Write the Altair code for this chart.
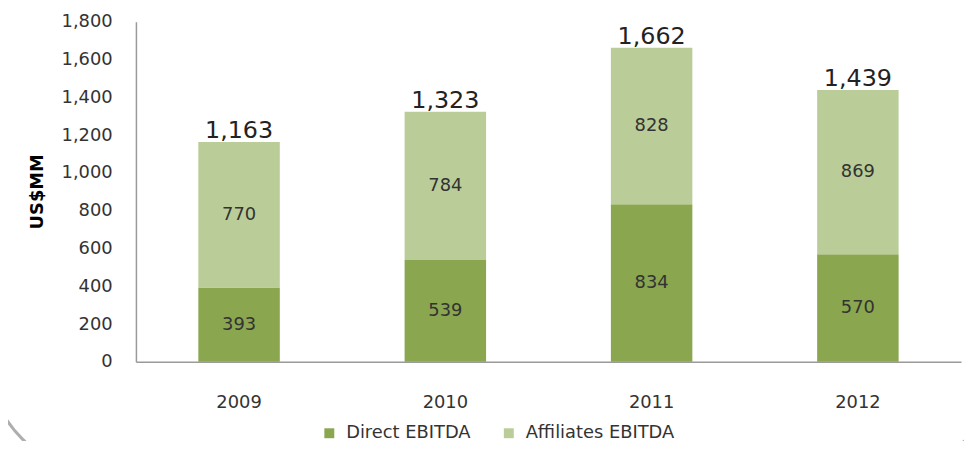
import altair as alt
import pandas as pd

years = ["2009", "2010", "2011", "2012"]
direct = [393, 539, 834, 570]
affiliates = [770, 784, 828, 869]
totals = [1163, 1323, 1662, 1439]
series = ["Direct EBITDA", "Affiliates EBITDA"]
colors = ["#8AA64F", "#BACD98"]
y_ticks = [0, 200, 400, 600, 800, 1000, 1200, 1400, 1600, 1800]

rows = []
for i, yr in enumerate(years):
    rows.append({"year": yr, "series": series[0], "value": direct[i], "ord": 0,
                 "mid": direct[i] / 2})
    rows.append({"year": yr, "series": series[1], "value": affiliates[i], "ord": 1,
                 "mid": direct[i] + affiliates[i] / 2})
df = pd.DataFrame(rows)
tot = pd.DataFrame({"year": years, "total": totals})

FONT = "DejaVu Sans"

xscale = alt.Scale(paddingInner=0.605, paddingOuter=0.3025)
xaxis = alt.Axis(title=None, labelAngle=0, tickSize=0, ticks=False,
                 labelPadding=32, labelFontSize=18, labelColor="#333333",
                 domainColor="#9A9A9A", domainWidth=1.5, grid=False)
yscale = alt.Scale(domain=[0, 1800], nice=False)
yaxis = alt.Axis(title="US$MM", values=y_ticks, tickCount=30, format=",.0f",
                 labelOverlap=False,
                 ticks=False, tickSize=0, labelPadding=24, labelFontSize=18,
                 labelColor="#333333", domainColor="#9A9A9A", domainWidth=1.5,
                 grid=False, titleFontSize=18, titleFontWeight="bold",
                 titleColor="#000000", titleAngle=270, titleX=-99, titleY=171,
                 titleAlign="center", titleBaseline="middle")

bars = alt.Chart(df).mark_bar().encode(
    x=alt.X("year:N", sort=years, scale=xscale, axis=xaxis),
    y=alt.Y("value:Q", stack="zero", scale=yscale, axis=yaxis),
    color=alt.Color("series:N", scale=alt.Scale(domain=series, range=colors),
                    legend=alt.Legend(title=None, orient="none", direction="horizontal",
                                      legendX=186, legendY=406, symbolType="square",
                                      symbolSize=100, symbolStrokeWidth=0,
                                      labelFontSize=18, labelColor="#333333",
                                      labelOffset=8, columnPadding=29)),
    order=alt.Order("ord:Q"),
)

seg = alt.Chart(df).mark_text(fontSize=18, color="#333333", baseline="middle").encode(
    x=alt.X("year:N", sort=years, scale=xscale, axis=xaxis),
    y=alt.Y("mid:Q", scale=yscale, axis=yaxis),
    text=alt.Text("value:Q"),
)

top = alt.Chart(tot).mark_text(fontSize=24, color="#222222", baseline="alphabetic", dy=-4).encode(
    x=alt.X("year:N", sort=years, scale=xscale, axis=xaxis),
    y=alt.Y("total:Q", scale=yscale, axis=yaxis),
    text=alt.Text("total:Q", format=",.0f"),
)

frame = alt.Chart(pd.DataFrame({"a": [0]})).mark_rect(
    fillOpacity=0, stroke="#AEAEAE", strokeWidth=3, cornerRadius=124
).encode(x=alt.value(-151), x2=alt.value(874), y=alt.value(-70), y2=alt.value(457))

chart = alt.layer(frame, bars, seg, top).properties(
    width=832, height=343,
    autosize=alt.AutoSizeParams(type="none"),
    padding={"left": 129, "top": 12, "right": 3, "bottom": 78},
).configure(font=FONT).configure_view(strokeOpacity=0)

chart.save("out.html", embed_options={"renderer": "svg", "actions": False})
